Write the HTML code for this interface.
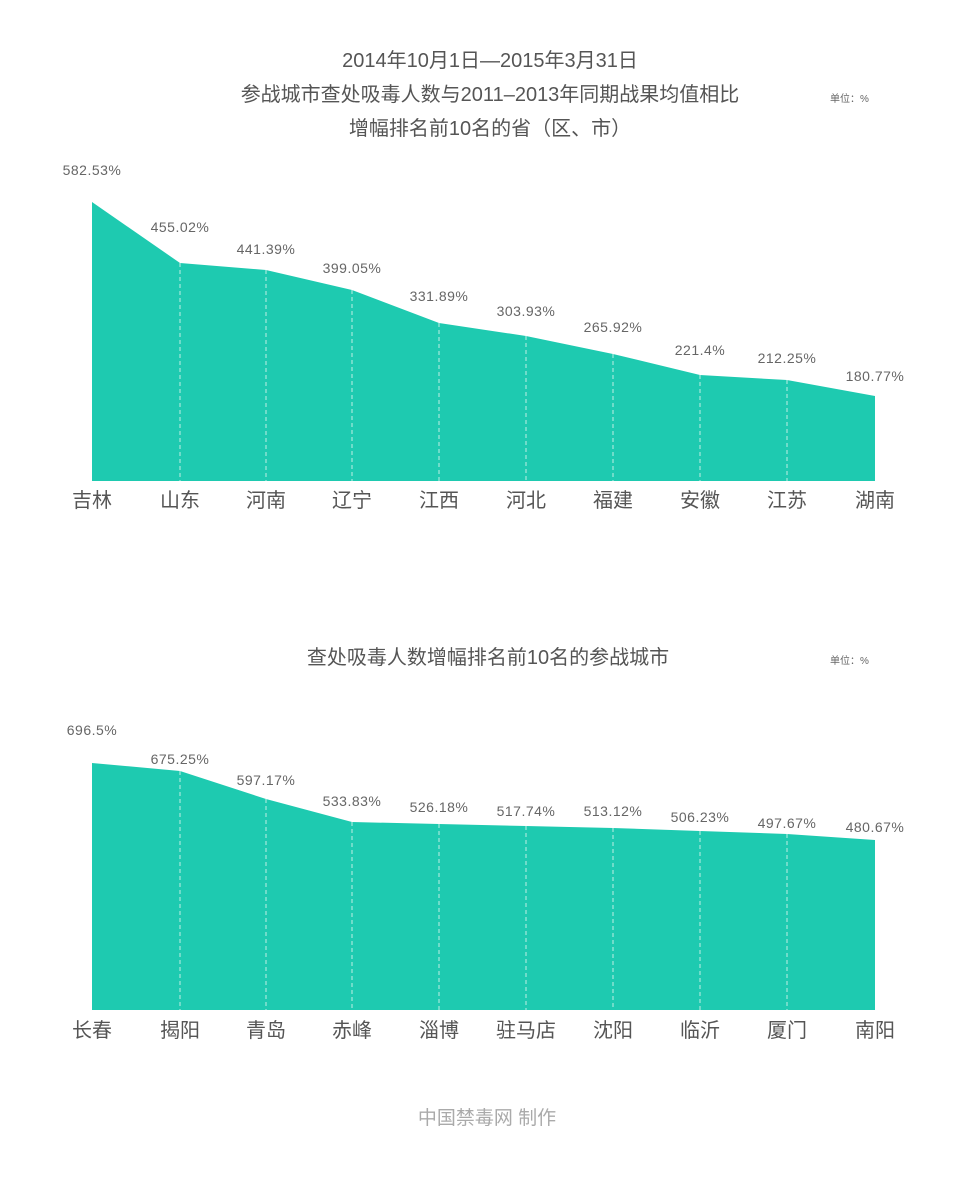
<!DOCTYPE html>
<html><head><meta charset="utf-8"><style>
html,body{margin:0;padding:0;background:#fff;}
svg{display:block;}
text{font-family:"Liberation Sans","Noto Sans CJK SC",sans-serif;}
.t{font-size:20px;fill:#555;text-anchor:middle;}
.v{font-size:14px;fill:#666;text-anchor:middle;letter-spacing:0.5px;}
.c{font-size:20px;fill:#555;text-anchor:middle;}
.u{font-size:10px;fill:#666;}
.d{stroke:#bdeee5;stroke-width:1;stroke-dasharray:4,3;}
</style></head><body>
<svg width="980" height="1191" viewBox="0 0 980 1191">
<text class="t" x="490" y="67">2014年10月1日—2015年3月31日</text>
<text class="t" x="490" y="101">参战城市查处吸毒人数与2011–2013年同期战果均值相比</text>
<text class="t" x="490" y="135">增幅排名前10名的省（区、市）</text>
<text class="u" x="830" y="102">单位：%</text>

<polygon fill="#1ecab0" points="92,481 92,202 180,263 266,270 352,290 439,323 526,336 613,354 700,375 787,380 875,396 875,481"/>
<g class="d">
<line x1="180" y1="263" x2="180" y2="481"/><line x1="266" y1="270" x2="266" y2="481"/>
<line x1="352" y1="290" x2="352" y2="481"/><line x1="439" y1="323" x2="439" y2="481"/>
<line x1="526" y1="336" x2="526" y2="481"/><line x1="613" y1="354" x2="613" y2="481"/>
<line x1="700" y1="375" x2="700" y2="481"/><line x1="787" y1="380" x2="787" y2="481"/>
</g>
<text class="v" x="92" y="175">582.53%</text>
<text class="v" x="180" y="232">455.02%</text>
<text class="v" x="266" y="254">441.39%</text>
<text class="v" x="352" y="273">399.05%</text>
<text class="v" x="439" y="301">331.89%</text>
<text class="v" x="526" y="316">303.93%</text>
<text class="v" x="613" y="332">265.92%</text>
<text class="v" x="700" y="355">221.4%</text>
<text class="v" x="787" y="363">212.25%</text>
<text class="v" x="875" y="381">180.77%</text>
<g class="c">
<text x="92" y="507">吉林</text><text x="180" y="507">山东</text><text x="266" y="507">河南</text>
<text x="352" y="507">辽宁</text><text x="439" y="507">江西</text><text x="526" y="507">河北</text>
<text x="613" y="507">福建</text><text x="700" y="507">安徽</text><text x="787" y="507">江苏</text>
<text x="875" y="507">湖南</text>
</g>

<text class="t" x="488" y="664">查处吸毒人数增幅排名前10名的参战城市</text>
<text class="u" x="830" y="664">单位：%</text>
<polygon fill="#1ecab0" points="92,1010 92,763 180,771 266,799 352,822 439,824 526,826 613,828 700,831 787,834 875,840 875,1010"/>
<g class="d">
<line x1="180" y1="771" x2="180" y2="1010"/><line x1="266" y1="799" x2="266" y2="1010"/>
<line x1="352" y1="822" x2="352" y2="1010"/><line x1="439" y1="824" x2="439" y2="1010"/>
<line x1="526" y1="826" x2="526" y2="1010"/><line x1="613" y1="828" x2="613" y2="1010"/>
<line x1="700" y1="831" x2="700" y2="1010"/><line x1="787" y1="834" x2="787" y2="1010"/>
</g>
<text class="v" x="92" y="735">696.5%</text>
<text class="v" x="180" y="764">675.25%</text>
<text class="v" x="266" y="785">597.17%</text>
<text class="v" x="352" y="806">533.83%</text>
<text class="v" x="439" y="812">526.18%</text>
<text class="v" x="526" y="816">517.74%</text>
<text class="v" x="613" y="816">513.12%</text>
<text class="v" x="700" y="822">506.23%</text>
<text class="v" x="787" y="828">497.67%</text>
<text class="v" x="875" y="832">480.67%</text>
<g class="c">
<text x="92" y="1037">长春</text><text x="180" y="1037">揭阳</text><text x="266" y="1037">青岛</text>
<text x="352" y="1037">赤峰</text><text x="439" y="1037">淄博</text><text x="526" y="1037">驻马店</text>
<text x="613" y="1037">沈阳</text><text x="700" y="1037">临沂</text><text x="787" y="1037">厦门</text>
<text x="875" y="1037">南阳</text>
</g>
<text x="487" y="1124" style="font-size:19px;fill:#aaa;text-anchor:middle;">中国禁毒网 制作</text>
</svg>
</body></html>
